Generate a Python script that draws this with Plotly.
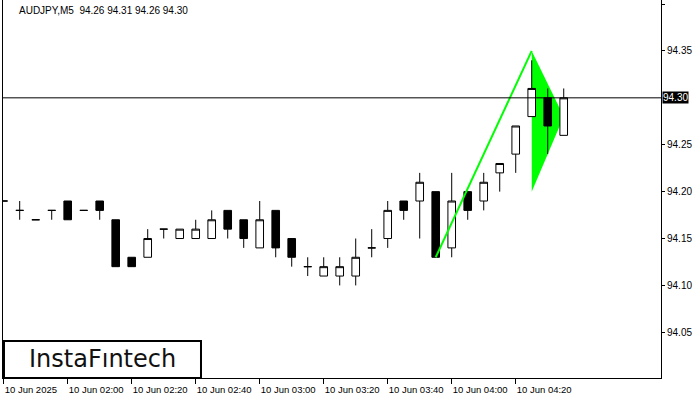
import plotly.graph_objects as go

# ---- data (AUDJPY M5, 10 Jun 2025, 01:40 .. 04:35) ----
times = ["01:40", "01:45", "01:50", "01:55", "02:00", "02:05", "02:10", "02:15", "02:20",
         "02:25", "02:30", "02:35", "02:40", "02:45", "02:50", "02:55", "03:00", "03:05",
         "03:10", "03:15", "03:20", "03:25", "03:30", "03:35", "03:40", "03:45", "03:50",
         "03:55", "04:00", "04:05", "04:10", "04:15", "04:20", "04:25", "04:30", "04:35"]
opens = [94.19, 94.18, 94.17, 94.18, 94.19, 94.18, 94.19, 94.17, 94.13,
         94.13, 94.16, 94.15, 94.15, 94.15, 94.18, 94.17, 94.14, 94.18,
         94.15, 94.12, 94.11, 94.11, 94.11, 94.14, 94.15, 94.19, 94.19,
         94.20, 94.14, 94.20, 94.19, 94.22, 94.24, 94.28, 94.30, 94.26]
highs = [94.19, 94.19, 94.17, 94.18, 94.19, 94.18, 94.19, 94.17, 94.13,
         94.16, 94.16, 94.16, 94.17, 94.18, 94.18, 94.17, 94.19, 94.18,
         94.15, 94.13, 94.13, 94.13, 94.15, 94.16, 94.19, 94.19, 94.22,
         94.20, 94.22, 94.20, 94.22, 94.23, 94.27, 94.34, 94.31, 94.31]
lows = [94.19, 94.17, 94.17, 94.17, 94.17, 94.18, 94.17, 94.12, 94.12,
        94.13, 94.15, 94.15, 94.15, 94.15, 94.15, 94.14, 94.14, 94.13,
        94.12, 94.11, 94.11, 94.10, 94.10, 94.13, 94.14, 94.17, 94.15,
        94.13, 94.13, 94.17, 94.18, 94.20, 94.22, 94.28, 94.24, 94.26]
closes = [94.19, 94.18, 94.17, 94.18, 94.17, 94.18, 94.18, 94.12, 94.12,
          94.15, 94.16, 94.16, 94.16, 94.17, 94.16, 94.15, 94.17, 94.14,
          94.13, 94.12, 94.12, 94.12, 94.13, 94.14, 94.18, 94.18, 94.21,
          94.13, 94.19, 94.18, 94.21, 94.23, 94.27, 94.31, 94.27, 94.30]

# bullish pennant pattern (pole + flag)
pole_idx = [27, 33]
pole_price = [94.13, 94.35]
flag_idx = [33, 35, 33]
flag_price = [94.35, 94.28, 94.20]

current_price = 94.30
title_text = "AUDJPY,M5\u00a0\u00a094.26 94.31 94.26 94.30"

tick_idx = [0, 4, 8, 12, 16, 20, 24, 28, 32]
tick_text = ["10 Jun 2025", "10 Jun 02:00", "10 Jun 02:20", "10 Jun 02:40", "10 Jun 03:00",
             "10 Jun 03:20", "10 Jun 03:40", "10 Jun 04:00", "10 Jun 04:20"]
ytick_vals = [94.05, 94.10, 94.15, 94.20, 94.25, 94.35, 94.40]

idx = list(range(len(times)))
FONT = "Liberation Sans, Arial, sans-serif"
GREEN = "#00FF00"

fig = go.Figure()

# flag (under the candles)
fig.add_trace(go.Scatter(x=flag_idx, y=flag_price, fill="toself", fillcolor=GREEN,
                         line=dict(width=0, color=GREEN), mode="lines",
                         hoverinfo="skip", showlegend=False, xaxis="x", yaxis="y"))

# candles on overlaid axis (drawn above the flag)
fig.add_trace(go.Candlestick(x=idx, open=opens, high=highs, low=lows, close=closes,
                             increasing=dict(fillcolor="white", line=dict(color="black", width=1)),
                             decreasing=dict(fillcolor="black", line=dict(color="black", width=1)),
                             whiskerwidth=0, showlegend=False, hoverinfo="skip",
                             xaxis="x", yaxis="y2"))

# pole line (above candles)
fig.add_trace(go.Scatter(x=pole_idx, y=pole_price, mode="lines",
                         line=dict(color=GREEN, width=2),
                         hoverinfo="skip", showlegend=False, xaxis="x", yaxis="y2"))

yr = [94.0013, 94.4043]
fig.update_layout(
    width=700, height=400,
    margin=dict(l=3, r=39, t=0, b=22, autoexpand=False),
    paper_bgcolor="white", plot_bgcolor="white",
    boxgap=0.32,
    font=dict(family=FONT, size=10, color="black"),
    xaxis=dict(range=[-0.044, 41.08], tickvals=tick_idx, ticktext=tick_text,
               tickfont=dict(size=9.5),
               showgrid=False, zeroline=False, showline=True, linecolor="black", linewidth=1,
               ticks="outside", ticklen=5, tickcolor="black", automargin=False,
               ticklabelposition="outside right", ticklabelstandoff=3,
               rangeslider=dict(visible=False), fixedrange=True),
    yaxis=dict(range=yr, side="right", tickvals=ytick_vals,
               ticktext=[f"{v:.2f}" for v in ytick_vals], automargin=False,
               tickfont=dict(size=10),
               showgrid=False, zeroline=False, showline=True, mirror=True,
               linecolor="black", linewidth=1, ticks="outside", ticklen=3, tickcolor="black",
               fixedrange=True),
    yaxis2=dict(range=yr, overlaying="y", visible=False, fixedrange=True, automargin=False),
)

# current price line
fig.add_shape(type="line", xref="paper", yref="y", x0=0, x1=1, y0=current_price, y1=current_price,
              line=dict(color="black", width=1), layer="above")

# current price label
fig.add_annotation(xref="paper", yref="y", x=1, y=current_price, xanchor="left", yanchor="middle",
                   xshift=1, text=f"{current_price:.2f}", showarrow=False, bgcolor="black",
                   borderpad=0, font=dict(color="white", size=10, family=FONT))

# title
fig.add_annotation(xref="paper", yref="paper", x=0.021, y=0.973, xanchor="left", yanchor="middle",
                   text=title_text, showarrow=False, font=dict(size=10, family=FONT, color="black"))

# logo box
fig.add_shape(type="rect", xref="paper", yref="paper", x0=0.0015, x1=0.3009, y0=0, y1=0.0979,
              line=dict(color="black", width=2), fillcolor="white", layer="above")
fig.add_annotation(xref="paper", yref="paper", x=0.1512, y=0.0490, xanchor="center", yanchor="middle",
                   text="InstaF\u0131ntech", showarrow=False,
                   font=dict(size=24, family="DejaVu Sans", color="#111111"))

fig.write_html("out.html", config={"displayModeBar": False, "staticPlot": True},
               post_script="document.body.style.margin='0';document.body.style.padding='0';")
